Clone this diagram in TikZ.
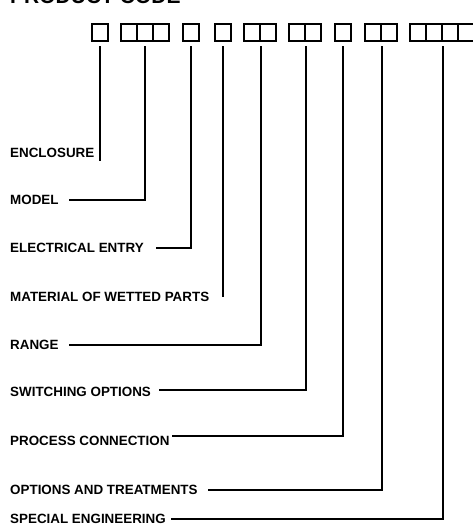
\documentclass[tikz,border=0pt]{standalone}
\usepackage{fontspec}
\setmainfont{Liberation Sans}

\begin{document}
\begin{tikzpicture}[x=1pt, y=-1pt,
    cell/.style={rectangle, draw, line width=2.2pt, minimum width=16pt, minimum height=17pt, inner sep=0pt},
    lbl/.style={anchor=west, inner sep=0pt, font=\fontsize{13.4}{15}\selectfont\bfseries},
    lead/.style={line width=1.6pt, shorten <=4pt}]
    \useasboundingbox (0,0) rectangle (472,525);

    % Heading
    \node[anchor=base west, inner sep=0pt, font=\fontsize{21}{24}\selectfont\bfseries] (title) at (10,3.3) {PRODUCT CODE};

    % Draw code boxes
    \node[cell] (enc) at (100,32.5) {};
    \node[cell] (mod1) at (129,32.5) {};
    \node[cell] (mod2) at (145,32.5) {};
    \node[cell] (mod3) at (161,32.5) {};
    \node[cell] (elec) at (191,32.5) {};
    \node[cell] (mat) at (223,32.5) {};
    \node[cell] (rng1) at (252,32.5) {};
    \node[cell] (rng2) at (268,32.5) {};
    \node[cell] (sw1) at (297,32.5) {};
    \node[cell] (sw2) at (313,32.5) {};
    \node[cell] (pc) at (343,32.5) {};
    \node[cell] (opt1) at (373,32.5) {};
    \node[cell] (opt2) at (389,32.5) {};
    \node[cell] (spe1) at (418,32.5) {};
    \node[cell] (spe2) at (434,32.5) {};
    \node[cell] (spe3) at (450,32.5) {};
    \node[cell] (spe4) at (466,32.5) {};

    % Labels
    \node[lbl] (encl) at (10,153) {ENCLOSURE};
    \node[lbl] (model) at (10,200) {MODEL};
    \node[lbl] (entry) at (10,248) {ELECTRICAL ENTRY};
    \node[lbl] (wetted) at (10,297) {MATERIAL OF WETTED PARTS};
    \node[lbl] (range) at (10,345) {RANGE};
    \node[lbl] (switch) at (10,392) {SWITCHING OPTIONS};
    \node[lbl] (conn) at (10,441) {PROCESS CONNECTION};
    \node[lbl] (treat) at (10,490) {OPTIONS AND TREATMENTS};
    \node[lbl] (special) at (10,519) {SPECIAL ENGINEERING};
    \coordinate (encend) at (100,161);
    \coordinate (matend) at (223,297);

    % Draw connections
    \draw[lead] (enc.south) -- (encend);
    \draw[lead, shorten >=10pt] (mod2.south) |- (model.east);
    \draw[lead, shorten >=12pt] (elec.south) |- (entry.east);
    \draw[lead] (mat.south) -- (matend);
    \draw[lead, shorten >=10pt] (rng1.south east) |- (range.east);
    \draw[lead, shorten >=8pt] (sw1.south east) |- ([yshift=2pt]switch.east);
    \draw[lead, shorten >=2pt] (pc.south) |- (conn.north east);
    \draw[lead, shorten >=10pt] (opt1.south east) |- (treat.east);
    \draw[lead, shorten >=5pt] (spe2.south east) |- (special.east);
\end{tikzpicture}
\end{document}
